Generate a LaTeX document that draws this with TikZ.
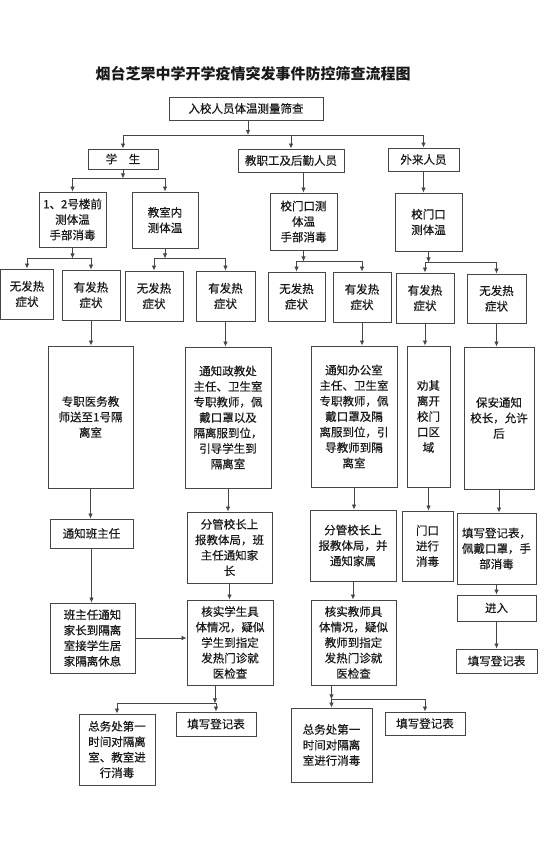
\documentclass[tikz,border=0pt]{standalone}
\usepackage{fontspec}
\setmainfont{Noto Sans CJK SC}
\newfontfamily\boxfont{Noto Sans CJK SC}[FakeBold=0.4]
\usetikzlibrary{arrows.meta,calc}
\definecolor{boxline}{RGB}{70,70,70}
\definecolor{inkdark}{RGB}{25,25,25}

\begin{document}
\begin{tikzpicture}[
  x=1pt,y=-1pt,
  box/.style={draw=boxline,line width=0.9pt,fill=white,align=center,
    inner sep=1pt,text=inkdark,font=\boxfont\fontsize{11.5}{15.5}\selectfont},
  sz/.style 2 args={minimum width=#1pt,minimum height=#2pt},
  arr/.style={-{Latex[length=5pt,width=4.5pt]},line width=0.8pt,boxline},
]
  \useasboundingbox[fill=white] (0,0) rectangle (559,844);

  \node[font=\fontsize{15}{18}\selectfont\bfseries,text=inkdark] (title) at (253,74)
    {烟台芝罘中学开学疫情突发事件防控筛查流程图};

  % first level
  \node[box,sz={154}{23}] (entry) at (246,108.5) {入校人员体温测量筛查};
  \node[box,sz={70}{20}] (stu) at (123,159) {学\quad 生};
  \node[box,sz={106}{23}] (staff) at (291,160.5) {教职工及后勤人员};
  \node[box,sz={71}{23}] (vis) at (423.5,159.5) {外来人员};

  % temperature check
  \node[box,sz={67}{55}] (b12) at (72.5,219.5) {1、2号楼前\\测体温\\手部消毒};
  \node[box,sz={66}{56}] (cls) at (165,220) {教室内\\测体温};
  \node[box,sz={67}{57}] (gate1) at (303.5,221.5) {校门口测\\体温\\手部消毒};
  \node[box,sz={67}{58}] (gate2) at (428.5,222) {校门口\\测体温};

  % fever or not
  \node[box,sz={53}{50}] (n1) at (27,294) {无发热\\症状};
  \node[box,sz={58}{50}] (y1) at (91,295) {有发热\\症状};
  \node[box,sz={58}{50}] (n2) at (154,296) {无发热\\症状};
  \node[box,sz={59}{50}] (y2) at (225.5,296) {有发热\\症状};
  \node[box,sz={57}{49}] (n3) at (296.5,296.5) {无发热\\症状};
  \node[box,sz={58}{50}] (y3) at (362,297) {有发热\\症状};
  \node[box,sz={58}{50}] (y4) at (425,298) {有发热\\症状};
  \node[box,sz={59}{49}] (n4) at (496.5,298.5) {无发热\\症状};

  % tall boxes
  \node[box,sz={85}{142}] (iso) at (90.5,417) {专职医务教\\师送至1号隔\\离室};
  \node[box,sz={86}{141}] (notz) at (228,417.5)
    {通知政教处\\主任、卫生室\\专职教师，佩\\戴口罩以及\\隔离服到位，\\引导学生到\\隔离室};
  \node[box,sz={86}{141}] (noto) at (354,416.5)
    {通知办公室\\主任、卫生室\\专职教师，佩\\戴口罩及隔\\离服到位，引\\导教师到隔\\离室};
  \node[box,sz={43}{141}] (leave) at (428.5,416.5) {劝其\\离开\\校门\\口区\\域};
  \node[box,sz={70}{142}] (guard) at (499,418) {保安通知\\校长，允许\\后};

  % reports
  \node[box,sz={83}{29}] (tch) at (91.5,533.5) {通知班主任};
  \node[box,sz={85}{71}] (rep1) at (229.5,547.5) {分管校长上\\报教体局，班\\主任通知家\\长};
  \node[box,sz={86}{71}] (rep2) at (353,545.5) {分管校长上\\报教体局，并\\通知家属};
  \node[box,sz={51}{70}] (dis) at (427.5,546) {门口\\进行\\消毒};
  \node[box,sz={79}{71}] (reg1) at (496.5,548.5) {填写登记表，\\佩戴口罩，手\\部消毒};

  \node[box,sz={85}{70}] (par) at (92.5,638) {班主任通知\\家长到隔离\\室接学生居\\家隔离休息};
  \node[box,sz={86}{85}] (chk1) at (230,642.5)
    {核实学生具\\体情况，疑似\\学生到指定\\发热门诊就\\医检查};
  \node[box,sz={85}{85}] (chk2) at (353.5,642.5)
    {核实教师具\\体情况，疑似\\教师到指定\\发热门诊就\\医检查};
  \node[box,sz={79}{26}] (enter) at (496.5,608) {进入};
  \node[box,sz={81}{24}] (reg2) at (496.5,661) {填写登记表};

  % disinfection
  \node[box,sz={76}{71}] (gen1) at (117,749.5) {总务处第一\\时间对隔离\\室、教室进\\行消毒};
  \node[box,sz={80}{24}] (f1) at (216,724) {填写登记表};
  \node[box,sz={81}{74}] (gen2) at (331.5,745) {总务处第一\\时间对隔离\\室进行消毒};
  \node[box,sz={80}{23}] (f2) at (425,723.5) {填写登记表};

  % main fork
  \coordinate (j0) at (248,135);
  \draw[arr] (entry.south -| j0) -- (j0);
  \draw[arr] (j0) -| (stu);
  \draw[arr] (j0) -| (vis);
  \draw[arr] (j0 -| staff) -- (staff);
  \draw[arr] (gate1.north |- staff.south) -- (gate1);
  \draw[arr] (vis) -- (vis |- gate2.north);

  % two way forks
  \foreach \p/\a/\b/\d in {stu/b12/cls/9, b12/n1/y1/11, cls/n2/y2/10,
      gate1/n3/y3/11, gate2/y4/n4/11}{
    \draw[arr] (\p.south) -- ++(0,\d) coordinate (fk);
    \draw[arr] (fk) -| (\a);
    \draw[arr] (fk) -| (\b);
  }
  \draw[arr] (chk1.south -| 215,0) -- ++(0,18) coordinate (fk1);
  \draw[arr] (fk1) -| (gen1);
  \draw[arr] (fk1) -| (f1);
  \draw[arr] (gen2.north |- chk2.south) -- ++(0,14) coordinate (fk2);
  \draw[arr] (fk2) -- (gen2);
  \draw[arr] (fk2) -| (f2);

  % straight arrows
  \foreach \a/\b in {y1/iso, y2/notz, y3/noto, y4/leave, n4/guard,
      iso/tch, tch/par, notz/rep1, rep1/chk1, noto/rep2, rep2/chk2,
      leave/dis, guard/reg1, reg1/enter, enter/reg2}
    \draw[arr] (\a.south) -- (\a.south |- \b.north);
  \draw[arr] (par.east) -- (par.east -| chk1.west);
\end{tikzpicture}
\end{document}
